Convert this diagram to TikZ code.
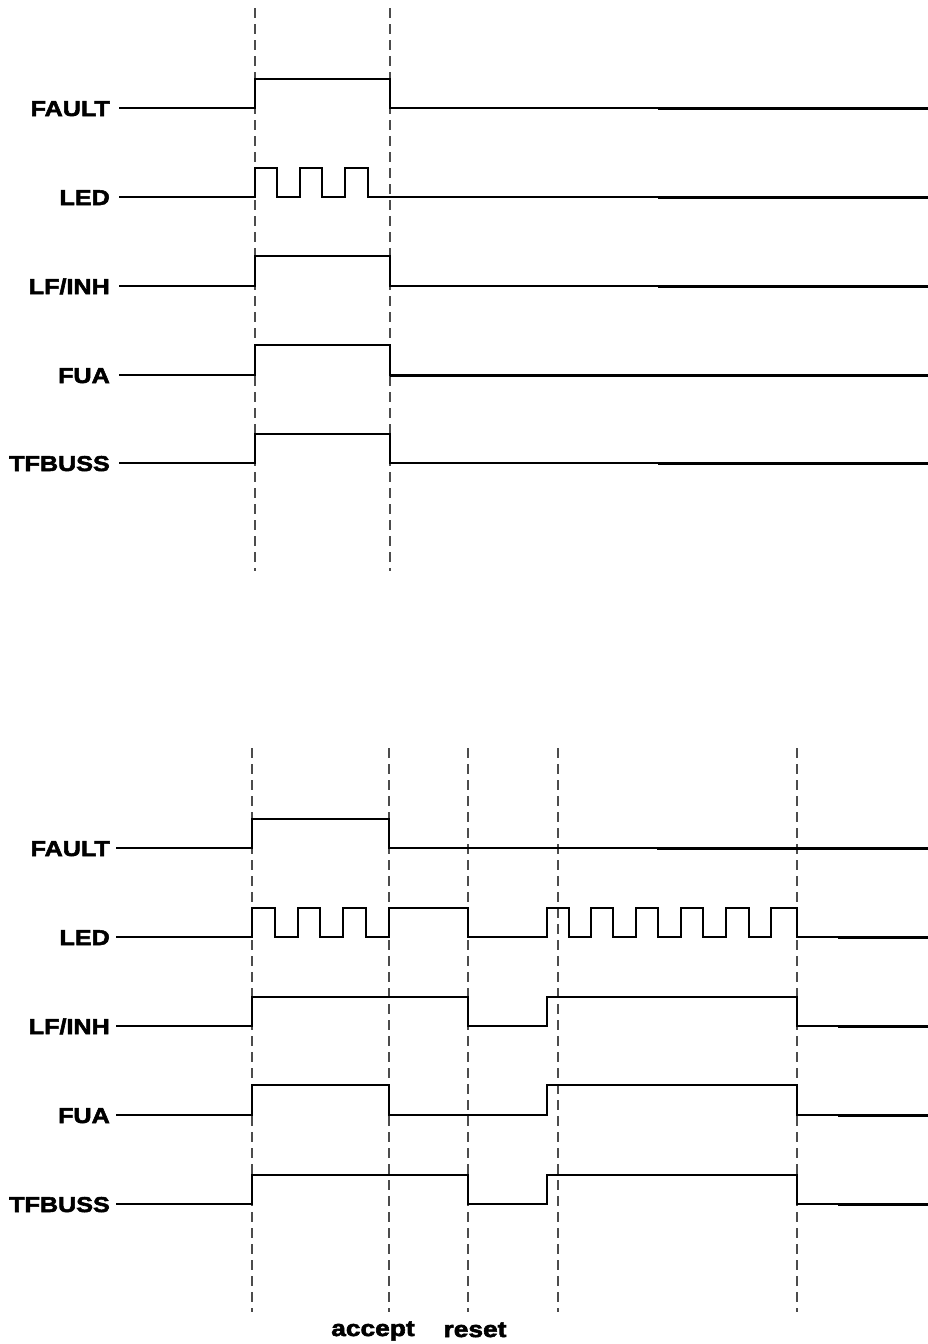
\documentclass[tikz,border=0pt]{standalone}
\usepackage{fontspec}
\newfontfamily\labfont[UprightFont=* Bold,FakeBold=2.6,FakeStretch=1.17]{Liberation Sans}
\begin{document}
\begin{tikzpicture}[x=1pt,y=-1pt,
  sig/.style={line width=1.7pt,line join=miter},
  tail/.style={line width=3pt},
  guide/.style={line width=1.2pt,draw=black!70,dash pattern=on 10pt off 6pt},
  lab/.style={anchor=base east,inner sep=0pt,yshift=-8pt,font=\labfont\fontsize{21.5}{21.5}\selectfont},
  evt/.style={anchor=base,inner sep=0pt,font=\labfont\fontsize{22.5}{22.5}\selectfont}]
\useasboundingbox (0,0) rectangle (928,1344);
% ---------------- top diagram ----------------
\draw[guide] (255,8) -- (255,571);
\draw[guide] (390,8) -- (390,571);
\node[lab] (tFAULT) at (110,108) {FAULT};
\node[lab] (tLED) at (110,197) {LED};
\node[lab] (tLF) at (110,286) {LF/INH};
\node[lab] (tFUA) at (110,375) {FUA};
\node[lab] (tTF) at (110,463) {TFBUSS};
\draw[sig] (119,108) -- (255,108) -- (255,79) -- (390,79) -- (390,108) -- (658,108);
\draw[tail] (658,108) -- (928,108);
\draw[sig] (119,197) -- (255,197) -- (255,168) -- (277,168) -- (277,197) -- (300,197) -- (300,168) -- (322,168) -- (322,197) -- (345,197) -- (345,168) -- (368,168) -- (368,197) -- (658,197);
\draw[tail] (658,197) -- (928,197);
\draw[sig] (119,286) -- (255,286) -- (255,256) -- (390,256) -- (390,286) -- (658,286);
\draw[tail] (658,286) -- (928,286);
\draw[sig] (119,375) -- (255,375) -- (255,345) -- (390,345) -- (390,375) -- (658,375);
\draw[tail] (390,375) -- (928,375);
\draw[sig] (119,463) -- (255,463) -- (255,434) -- (390,434) -- (390,463) -- (658,463);
\draw[tail] (658,463) -- (928,463);
% ---------------- bottom diagram ----------------
\draw[guide] (252,748) -- (252,1312);
\draw[guide] (389,748) -- (389,1312);
\draw[guide] (468,748) -- (468,1312);
\draw[guide] (558,748) -- (558,1312);
\draw[guide] (797,748) -- (797,1312);
\node[lab] (bFAULT) at (110,848) {FAULT};
\node[lab] (bLED) at (110,937) {LED};
\node[lab] (bLF) at (110,1026) {LF/INH};
\node[lab] (bFUA) at (110,1115) {FUA};
\node[lab] (bTF) at (110,1204) {TFBUSS};
\draw[sig] (116,848) -- (252,848) -- (252,819) -- (389,819) -- (389,848) -- (657,848);
\draw[tail] (657,848) -- (928,848);
\draw[sig] (116,937) -- (252,937) -- (252,908) -- (275,908) -- (275,937) -- (298,937) -- (298,908) -- (320,908) -- (320,937) -- (343,937) -- (343,908) -- (366,908) -- (366,937) -- (389,937) -- (389,908) -- (468,908) -- (468,937) -- (547,937) -- (547,908) -- (569,908) -- (569,937) -- (591,937) -- (591,908) -- (613,908) -- (613,937) -- (636,937) -- (636,908) -- (658,908) -- (658,937) -- (681,937) -- (681,908) -- (703,908) -- (703,937) -- (726,937) -- (726,908) -- (749,908) -- (749,937) -- (771,937) -- (771,908) -- (797,908) -- (797,937) -- (838,937);
\draw[tail] (838,937) -- (928,937);
\draw[sig] (116,1026) -- (252,1026) -- (252,997) -- (468,997) -- (468,1026) -- (547,1026) -- (547,997) -- (797,997) -- (797,1026) -- (838,1026);
\draw[tail] (838,1026) -- (928,1026);
\draw[sig] (116,1115) -- (252,1115) -- (252,1085) -- (389,1085) -- (389,1115) -- (547,1115) -- (547,1085) -- (797,1085) -- (797,1115) -- (838,1115);
\draw[tail] (838,1115) -- (928,1115);
\draw[sig] (116,1204) -- (252,1204) -- (252,1175) -- (468,1175) -- (468,1204) -- (547,1204) -- (547,1175) -- (797,1175) -- (797,1204) -- (838,1204);
\draw[tail] (838,1204) -- (928,1204);
\node[evt] (accept) at (373,1336) {accept};
\node[evt] (reset) at (475,1337) {reset};
\end{tikzpicture}
\end{document}
